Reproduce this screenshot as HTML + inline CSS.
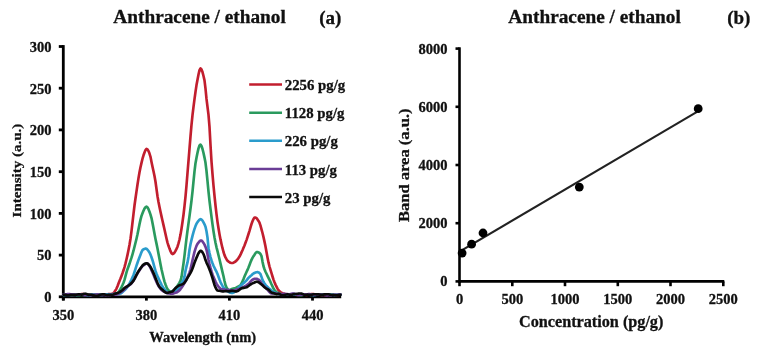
<!DOCTYPE html>
<html><head><meta charset="utf-8"><style>html,body{margin:0;padding:0;background:#fff;width:761px;height:350px;overflow:hidden}svg{display:block;filter:blur(0.4px)}</style></head><body>
<svg width="761" height="350" viewBox="0 0 761 350">
<rect width="761" height="350" fill="#fff"/>
<text x="199.6" y="23.2" font-family="&quot;Liberation Serif&quot;, serif" font-weight="bold" stroke="#111" stroke-width="0.3" font-size="19.3" text-anchor="middle" fill="#111">Anthracene / ethanol</text>
<text x="330.3" y="24" font-family="&quot;Liberation Serif&quot;, serif" font-weight="bold" stroke="#111" stroke-width="0.3" font-size="19" text-anchor="middle" fill="#111">(a)</text>
<text x="594.6" y="23.0" font-family="&quot;Liberation Serif&quot;, serif" font-weight="bold" stroke="#111" stroke-width="0.3" font-size="19.3" text-anchor="middle" fill="#111">Anthracene / ethanol</text>
<text x="738.8" y="24" font-family="&quot;Liberation Serif&quot;, serif" font-weight="bold" stroke="#111" stroke-width="0.3" font-size="19" text-anchor="middle" fill="#111">(b)</text>
<g stroke="#000" stroke-width="2.8" fill="none">
<path d="M63.3,45.1 V300.3"/>
<path d="M61.9,296.8 H341.20000000000005"/>
<path d="M58.8,296.8 H63.3"/>
<path d="M58.8,255.1 H63.3"/>
<path d="M58.8,213.4 H63.3"/>
<path d="M58.8,171.7 H63.3"/>
<path d="M58.8,129.9 H63.3"/>
<path d="M58.8,88.2 H63.3"/>
<path d="M58.8,46.5 H63.3"/>
<path d="M63.3,296.8 V300.6"/>
<path d="M146.4,296.8 V300.6"/>
<path d="M229.4,296.8 V300.6"/>
<path d="M312.5,296.8 V300.6"/>
</g>
<text x="51.5" y="302.1" font-family="&quot;Liberation Serif&quot;, serif" font-weight="bold" stroke="#111" stroke-width="0.3" font-size="14.5" text-anchor="end" fill="#111">0</text>
<text x="51.5" y="260.4" font-family="&quot;Liberation Serif&quot;, serif" font-weight="bold" stroke="#111" stroke-width="0.3" font-size="14.5" text-anchor="end" fill="#111">50</text>
<text x="51.5" y="218.7" font-family="&quot;Liberation Serif&quot;, serif" font-weight="bold" stroke="#111" stroke-width="0.3" font-size="14.5" text-anchor="end" fill="#111">100</text>
<text x="51.5" y="177.0" font-family="&quot;Liberation Serif&quot;, serif" font-weight="bold" stroke="#111" stroke-width="0.3" font-size="14.5" text-anchor="end" fill="#111">150</text>
<text x="51.5" y="135.2" font-family="&quot;Liberation Serif&quot;, serif" font-weight="bold" stroke="#111" stroke-width="0.3" font-size="14.5" text-anchor="end" fill="#111">200</text>
<text x="51.5" y="93.5" font-family="&quot;Liberation Serif&quot;, serif" font-weight="bold" stroke="#111" stroke-width="0.3" font-size="14.5" text-anchor="end" fill="#111">250</text>
<text x="51.5" y="51.8" font-family="&quot;Liberation Serif&quot;, serif" font-weight="bold" stroke="#111" stroke-width="0.3" font-size="14.5" text-anchor="end" fill="#111">300</text>
<text x="63.3" y="319.8" font-family="&quot;Liberation Serif&quot;, serif" font-weight="bold" stroke="#111" stroke-width="0.3" font-size="14.5" text-anchor="middle" fill="#111">350</text>
<text x="146.4" y="319.8" font-family="&quot;Liberation Serif&quot;, serif" font-weight="bold" stroke="#111" stroke-width="0.3" font-size="14.5" text-anchor="middle" fill="#111">380</text>
<text x="229.4" y="319.8" font-family="&quot;Liberation Serif&quot;, serif" font-weight="bold" stroke="#111" stroke-width="0.3" font-size="14.5" text-anchor="middle" fill="#111">410</text>
<text x="312.5" y="319.8" font-family="&quot;Liberation Serif&quot;, serif" font-weight="bold" stroke="#111" stroke-width="0.3" font-size="14.5" text-anchor="middle" fill="#111">440</text>
<text x="202.7" y="341.8" font-family="&quot;Liberation Serif&quot;, serif" font-weight="bold" stroke="#111" stroke-width="0.3" font-size="14.5" text-anchor="middle" fill="#111">Wavelength (nm)</text>
<text transform="translate(20.8,170.6) rotate(-90) scale(1,0.9)" font-family="&quot;Liberation Serif&quot;, serif" font-weight="bold" stroke="#111" stroke-width="0.3" font-size="15" text-anchor="middle" fill="#111">Intensity (a.u.)</text>
<path d="M63.5,294.8 L64.5,294.7 L65.5,294.7 L66.5,294.6 L67.5,294.5 L68.5,294.6 L69.5,294.7 L70.5,294.8 L71.5,294.8 L72.5,294.8 L73.5,294.8 L74.5,294.8 L75.5,294.7 L76.5,294.6 L77.5,294.6 L78.5,294.5 L79.5,294.4 L80.5,294.2 L81.5,294.1 L82.5,294.0 L83.5,294.1 L84.5,294.2 L85.5,294.3 L86.5,294.4 L87.5,294.4 L88.5,294.3 L89.5,294.2 L90.5,294.2 L91.5,294.3 L92.5,294.3 L93.5,294.2 L94.5,294.2 L95.5,294.2 L96.5,294.3 L97.5,294.4 L98.5,294.5 L99.5,294.5 L100.5,294.5 L101.5,294.5 L102.5,294.4 L103.5,294.3 L104.5,294.3 L105.5,294.3 L106.5,294.3 L107.5,294.2 L108.5,294.1 L109.5,294.1 L110.5,294.0 L111.5,293.9 L112.5,293.7 L113.5,293.1 L114.5,291.8 L115.5,290.3 L116.5,288.6 L117.5,286.2 L118.5,283.5 L119.5,280.9 L120.5,278.5 L121.5,275.9 L122.5,273.2 L123.5,270.3 L124.5,267.1 L125.5,263.4 L126.5,259.3 L127.5,254.9 L128.5,250.1 L129.5,244.8 L130.5,238.7 L131.5,231.1 L132.5,222.5 L133.5,213.9 L134.5,205.5 L135.5,198.3 L136.5,191.4 L137.5,184.5 L138.5,178.1 L139.5,172.3 L140.5,167.3 L141.5,162.9 L142.5,158.7 L143.5,155.3 L144.5,152.5 L145.5,150.1 L146.5,148.9 L147.5,149.4 L148.5,151.1 L149.5,153.6 L150.5,156.8 L151.5,161.9 L152.5,166.8 L153.5,171.3 L154.5,176.1 L155.5,181.8 L156.5,189.0 L157.5,196.2 L158.5,202.0 L159.5,207.1 L160.5,211.8 L161.5,216.4 L162.5,220.7 L163.5,225.1 L164.5,229.5 L165.5,234.0 L166.5,238.5 L167.5,242.6 L168.5,245.8 L169.5,248.6 L170.5,251.2 L171.5,253.2 L172.5,254.1 L173.5,253.7 L174.5,252.6 L175.5,250.9 L176.5,248.9 L177.5,246.7 L178.5,243.4 L179.5,239.5 L180.5,234.6 L181.5,228.7 L182.5,222.0 L183.5,214.7 L184.5,206.2 L185.5,196.7 L186.5,185.4 L187.5,173.0 L188.5,160.8 L189.5,148.7 L190.5,136.4 L191.5,124.9 L192.5,115.2 L193.5,106.9 L194.5,99.2 L195.5,91.9 L196.5,85.1 L197.5,79.7 L198.5,74.5 L199.5,70.1 L200.5,68.4 L201.5,69.5 L202.5,72.1 L203.5,76.0 L204.5,80.4 L205.5,88.7 L206.5,98.9 L207.5,106.8 L208.5,114.9 L209.5,126.9 L210.5,145.0 L211.5,161.5 L212.5,174.2 L213.5,185.6 L214.5,195.9 L215.5,205.5 L216.5,214.2 L217.5,221.8 L218.5,228.3 L219.5,234.2 L220.5,239.4 L221.5,244.0 L222.5,248.2 L223.5,252.0 L224.5,255.1 L225.5,257.4 L226.5,259.2 L227.5,260.7 L228.5,261.6 L229.5,262.2 L230.5,262.7 L231.5,263.0 L232.5,263.0 L233.5,262.7 L234.5,262.1 L235.5,261.5 L236.5,260.6 L237.5,259.4 L238.5,258.1 L239.5,256.6 L240.5,254.7 L241.5,252.4 L242.5,250.2 L243.5,247.8 L244.5,245.4 L245.5,242.8 L246.5,240.1 L247.5,237.1 L248.5,234.0 L249.5,230.8 L250.5,227.3 L251.5,224.0 L252.5,221.3 L253.5,218.9 L254.5,217.5 L255.5,217.5 L256.5,218.2 L257.5,219.4 L258.5,220.9 L259.5,222.7 L260.5,225.6 L261.5,229.3 L262.5,233.0 L263.5,237.1 L264.5,241.6 L265.5,246.6 L266.5,252.1 L267.5,257.5 L268.5,262.4 L269.5,266.5 L270.5,269.9 L271.5,273.2 L272.5,276.5 L273.5,279.6 L274.5,282.3 L275.5,284.6 L276.5,286.6 L277.5,288.6 L278.5,290.2 L279.5,291.3 L280.5,292.1 L281.5,292.8 L282.5,293.2 L283.5,293.5 L284.5,293.8 L285.5,294.0 L286.5,294.3 L287.5,294.5 L288.5,294.5 L289.5,294.4 L290.5,294.3 L291.5,294.3 L292.5,294.4 L293.5,294.5 L294.5,294.6 L295.5,294.7 L296.5,294.9 L297.5,294.9 L298.5,294.8 L299.5,294.7 L300.5,294.7 L301.5,294.6 L302.5,294.5 L303.5,294.6 L304.5,294.7 L305.5,294.8 L306.5,294.8 L307.5,294.8 L308.5,294.7 L309.5,294.5 L310.5,294.3 L311.5,294.1 L312.5,294.0 L313.5,294.1 L314.5,294.3 L315.5,294.6 L316.5,294.7 L317.5,294.6 L318.5,294.7 L319.5,294.8 L320.5,294.9 L321.5,294.9 L322.5,294.9 L323.5,294.9 L324.5,295.0 L325.5,294.9 L326.5,294.8 L327.5,294.8 L328.5,294.7 L329.5,294.8 L330.5,294.7 L331.5,294.7 L332.5,294.7 L333.5,294.7 L334.5,294.9 L335.5,295.0 L336.5,295.1 L337.5,295.0 L338.5,294.9 L339.5,294.7 L340.5,294.5" fill="none" stroke="#c21e2e" stroke-width="2.65" stroke-linejoin="round" stroke-linecap="round"/>
<path d="M63.5,294.8 L64.5,294.8 L65.5,294.7 L66.5,294.6 L67.5,294.7 L68.5,294.8 L69.5,295.0 L70.5,295.0 L71.5,295.0 L72.5,294.9 L73.5,294.8 L74.5,294.7 L75.5,294.7 L76.5,295.0 L77.5,295.1 L78.5,295.2 L79.5,295.1 L80.5,295.0 L81.5,294.8 L82.5,294.8 L83.5,294.8 L84.5,294.9 L85.5,295.0 L86.5,295.0 L87.5,294.8 L88.5,294.7 L89.5,294.8 L90.5,294.9 L91.5,294.9 L92.5,294.8 L93.5,294.6 L94.5,294.5 L95.5,294.6 L96.5,294.7 L97.5,294.6 L98.5,294.6 L99.5,294.5 L100.5,294.4 L101.5,294.3 L102.5,294.3 L103.5,294.4 L104.5,294.6 L105.5,294.7 L106.5,294.8 L107.5,294.7 L108.5,294.6 L109.5,294.4 L110.5,294.3 L111.5,294.3 L112.5,294.3 L113.5,294.3 L114.5,294.2 L115.5,294.0 L116.5,293.6 L117.5,293.3 L118.5,292.3 L119.5,290.6 L120.5,288.9 L121.5,287.1 L122.5,285.0 L123.5,282.7 L124.5,279.9 L125.5,276.2 L126.5,272.4 L127.5,269.2 L128.5,266.5 L129.5,263.8 L130.5,260.7 L131.5,257.7 L132.5,254.3 L133.5,250.7 L134.5,246.7 L135.5,242.7 L136.5,238.7 L137.5,234.3 L138.5,229.3 L139.5,224.2 L140.5,219.6 L141.5,215.9 L142.5,213.2 L143.5,210.7 L144.5,208.6 L145.5,207.2 L146.5,206.7 L147.5,207.3 L148.5,209.2 L149.5,211.7 L150.5,214.6 L151.5,218.1 L152.5,222.9 L153.5,228.3 L154.5,233.7 L155.5,238.9 L156.5,243.6 L157.5,248.5 L158.5,253.7 L159.5,259.0 L160.5,264.3 L161.5,269.2 L162.5,273.5 L163.5,277.7 L164.5,281.6 L165.5,284.5 L166.5,287.1 L167.5,289.2 L168.5,290.4 L169.5,291.1 L170.5,291.6 L171.5,291.7 L172.5,291.2 L173.5,290.4 L174.5,289.4 L175.5,288.3 L176.5,287.1 L177.5,285.7 L178.5,284.2 L179.5,282.7 L180.5,280.7 L181.5,277.1 L182.5,270.3 L183.5,263.5 L184.5,255.7 L185.5,246.9 L186.5,238.4 L187.5,230.7 L188.5,223.4 L189.5,216.1 L190.5,208.5 L191.5,200.7 L192.5,191.6 L193.5,181.3 L194.5,171.3 L195.5,163.2 L196.5,157.7 L197.5,152.8 L198.5,148.4 L199.5,145.5 L200.5,144.6 L201.5,146.0 L202.5,149.0 L203.5,153.0 L204.5,157.6 L205.5,162.8 L206.5,171.0 L207.5,181.2 L208.5,191.7 L209.5,200.8 L210.5,209.0 L211.5,216.9 L212.5,224.4 L213.5,231.3 L214.5,237.5 L215.5,242.8 L216.5,247.3 L217.5,251.2 L218.5,255.2 L219.5,259.3 L220.5,263.6 L221.5,267.9 L222.5,272.1 L223.5,276.3 L224.5,281.0 L225.5,285.1 L226.5,287.4 L227.5,289.0 L228.5,290.0 L229.5,290.1 L230.5,289.8 L231.5,289.3 L232.5,288.8 L233.5,288.5 L234.5,288.2 L235.5,287.9 L236.5,287.5 L237.5,287.0 L238.5,286.5 L239.5,286.0 L240.5,285.2 L241.5,283.5 L242.5,281.4 L243.5,279.1 L244.5,276.6 L245.5,274.2 L246.5,272.0 L247.5,269.9 L248.5,267.5 L249.5,264.9 L250.5,262.2 L251.5,259.9 L252.5,257.9 L253.5,256.2 L254.5,254.7 L255.5,253.1 L256.5,252.1 L257.5,252.0 L258.5,252.4 L259.5,253.0 L260.5,254.0 L261.5,256.1 L262.5,261.6 L263.5,266.3 L264.5,269.2 L265.5,271.7 L266.5,273.8 L267.5,275.8 L268.5,277.8 L269.5,279.9 L270.5,282.0 L271.5,284.3 L272.5,286.4 L273.5,288.4 L274.5,290.2 L275.5,291.3 L276.5,292.2 L277.5,292.7 L278.5,293.2 L279.5,293.5 L280.5,293.8 L281.5,294.0 L282.5,294.3 L283.5,294.4 L284.5,294.4 L285.5,294.3 L286.5,294.3 L287.5,294.5 L288.5,294.7 L289.5,294.7 L290.5,294.5 L291.5,294.3 L292.5,294.2 L293.5,294.3 L294.5,294.5 L295.5,294.5 L296.5,294.5 L297.5,294.5 L298.5,294.7 L299.5,294.9 L300.5,295.1 L301.5,295.1 L302.5,294.9 L303.5,294.7 L304.5,294.6 L305.5,294.5 L306.5,294.5 L307.5,294.5 L308.5,294.6 L309.5,294.7 L310.5,294.7 L311.5,294.7 L312.5,294.6 L313.5,294.5 L314.5,294.5 L315.5,294.5 L316.5,294.6 L317.5,294.6 L318.5,294.6 L319.5,294.5 L320.5,294.4 L321.5,294.4 L322.5,294.4 L323.5,294.4 L324.5,294.4 L325.5,294.5 L326.5,294.6 L327.5,294.7 L328.5,294.6 L329.5,294.5 L330.5,294.5 L331.5,294.5 L332.5,294.6 L333.5,294.6 L334.5,294.6 L335.5,294.7 L336.5,294.7 L337.5,294.7 L338.5,294.7 L339.5,294.6 L340.5,294.6" fill="none" stroke="#2a9a5e" stroke-width="2.65" stroke-linejoin="round" stroke-linecap="round"/>
<path d="M63.5,294.9 L64.5,294.9 L65.5,294.9 L66.5,294.8 L67.5,294.8 L68.5,294.8 L69.5,294.9 L70.5,294.9 L71.5,294.8 L72.5,294.8 L73.5,294.9 L74.5,295.0 L75.5,295.0 L76.5,294.9 L77.5,294.7 L78.5,294.6 L79.5,294.5 L80.5,294.4 L81.5,294.3 L82.5,294.3 L83.5,294.4 L84.5,294.6 L85.5,294.8 L86.5,294.9 L87.5,295.1 L88.5,295.2 L89.5,295.1 L90.5,294.9 L91.5,294.6 L92.5,294.5 L93.5,294.6 L94.5,294.7 L95.5,294.8 L96.5,294.8 L97.5,294.8 L98.5,294.8 L99.5,294.8 L100.5,294.9 L101.5,295.0 L102.5,295.0 L103.5,294.8 L104.5,294.7 L105.5,294.5 L106.5,294.4 L107.5,294.4 L108.5,294.4 L109.5,294.5 L110.5,294.4 L111.5,294.3 L112.5,294.1 L113.5,294.0 L114.5,293.9 L115.5,293.9 L116.5,294.0 L117.5,294.0 L118.5,294.0 L119.5,293.8 L120.5,293.5 L121.5,292.9 L122.5,292.0 L123.5,291.0 L124.5,290.2 L125.5,289.3 L126.5,288.2 L127.5,286.8 L128.5,285.2 L129.5,283.4 L130.5,281.5 L131.5,279.5 L132.5,277.3 L133.5,275.0 L134.5,272.0 L135.5,268.8 L136.5,265.7 L137.5,262.8 L138.5,259.9 L139.5,257.2 L140.5,254.7 L141.5,252.1 L142.5,250.1 L143.5,249.3 L144.5,248.9 L145.5,248.6 L146.5,248.8 L147.5,249.7 L148.5,251.0 L149.5,252.5 L150.5,254.6 L151.5,257.3 L152.5,260.2 L153.5,263.6 L154.5,267.4 L155.5,270.9 L156.5,273.7 L157.5,276.1 L158.5,278.3 L159.5,280.5 L160.5,282.6 L161.5,284.6 L162.5,286.4 L163.5,288.1 L164.5,289.5 L165.5,290.5 L166.5,291.5 L167.5,292.2 L168.5,292.6 L169.5,292.8 L170.5,293.1 L171.5,293.3 L172.5,293.2 L173.5,292.8 L174.5,292.1 L175.5,291.4 L176.5,290.5 L177.5,289.5 L178.5,288.3 L179.5,286.7 L180.5,285.0 L181.5,283.3 L182.5,281.8 L183.5,279.9 L184.5,276.6 L185.5,270.7 L186.5,266.4 L187.5,262.4 L188.5,256.9 L189.5,249.7 L190.5,244.3 L191.5,239.9 L192.5,235.9 L193.5,232.2 L194.5,228.9 L195.5,226.1 L196.5,223.7 L197.5,222.1 L198.5,220.8 L199.5,219.7 L200.5,219.2 L201.5,219.6 L202.5,220.7 L203.5,222.4 L204.5,224.3 L205.5,226.8 L206.5,231.3 L207.5,237.6 L208.5,248.2 L209.5,253.1 L210.5,257.1 L211.5,260.4 L212.5,263.2 L213.5,265.7 L214.5,267.8 L215.5,269.8 L216.5,271.7 L217.5,274.0 L218.5,276.7 L219.5,279.5 L220.5,282.1 L221.5,284.2 L222.5,285.9 L223.5,287.4 L224.5,288.8 L225.5,289.9 L226.5,290.7 L227.5,291.3 L228.5,291.9 L229.5,292.4 L230.5,292.8 L231.5,293.0 L232.5,292.9 L233.5,292.6 L234.5,291.9 L235.5,291.1 L236.5,290.3 L237.5,289.3 L238.5,288.0 L239.5,286.9 L240.5,285.9 L241.5,284.9 L242.5,284.0 L243.5,283.2 L244.5,282.4 L245.5,281.4 L246.5,280.3 L247.5,279.1 L248.5,277.9 L249.5,276.9 L250.5,276.0 L251.5,275.2 L252.5,274.2 L253.5,273.5 L254.5,272.9 L255.5,272.5 L256.5,272.2 L257.5,272.1 L258.5,272.4 L259.5,273.0 L260.5,274.2 L261.5,276.9 L262.5,279.9 L263.5,281.8 L264.5,283.4 L265.5,284.8 L266.5,286.0 L267.5,287.0 L268.5,288.0 L269.5,288.8 L270.5,289.6 L271.5,290.5 L272.5,291.3 L273.5,292.0 L274.5,292.6 L275.5,293.0 L276.5,293.4 L277.5,293.7 L278.5,294.0 L279.5,294.2 L280.5,294.2 L281.5,294.3 L282.5,294.4 L283.5,294.6 L284.5,294.7 L285.5,294.7 L286.5,294.6 L287.5,294.5 L288.5,294.5 L289.5,294.5 L290.5,294.4 L291.5,294.2 L292.5,294.1 L293.5,294.1 L294.5,294.2 L295.5,294.4 L296.5,294.7 L297.5,294.8 L298.5,294.8 L299.5,294.6 L300.5,294.4 L301.5,294.3 L302.5,294.3 L303.5,294.3 L304.5,294.4 L305.5,294.4 L306.5,294.5 L307.5,294.6 L308.5,294.7 L309.5,294.8 L310.5,294.9 L311.5,295.0 L312.5,295.0 L313.5,295.1 L314.5,295.0 L315.5,294.9 L316.5,294.7 L317.5,294.6 L318.5,294.6 L319.5,294.6 L320.5,294.7 L321.5,294.8 L322.5,294.8 L323.5,294.7 L324.5,294.5 L325.5,294.4 L326.5,294.4 L327.5,294.5 L328.5,294.6 L329.5,294.7 L330.5,294.7 L331.5,294.7 L332.5,294.8 L333.5,295.0 L334.5,295.1 L335.5,295.1 L336.5,294.9 L337.5,294.7 L338.5,294.6 L339.5,294.6 L340.5,294.7" fill="none" stroke="#2a9ccc" stroke-width="2.65" stroke-linejoin="round" stroke-linecap="round"/>
<path d="M63.5,294.6 L64.5,294.5 L65.5,294.4 L66.5,294.2 L67.5,294.1 L68.5,294.0 L69.5,294.1 L70.5,294.3 L71.5,294.4 L72.5,294.5 L73.5,294.5 L74.5,294.6 L75.5,294.8 L76.5,294.9 L77.5,294.8 L78.5,294.7 L79.5,294.6 L80.5,294.5 L81.5,294.5 L82.5,294.7 L83.5,294.9 L84.5,295.1 L85.5,295.1 L86.5,295.0 L87.5,294.9 L88.5,295.0 L89.5,295.1 L90.5,295.2 L91.5,295.2 L92.5,295.0 L93.5,294.9 L94.5,294.9 L95.5,294.8 L96.5,294.6 L97.5,294.4 L98.5,294.5 L99.5,294.7 L100.5,294.9 L101.5,295.0 L102.5,295.0 L103.5,294.9 L104.5,295.0 L105.5,295.1 L106.5,295.2 L107.5,295.2 L108.5,295.1 L109.5,295.0 L110.5,294.9 L111.5,294.8 L112.5,294.7 L113.5,294.7 L114.5,294.7 L115.5,294.6 L116.5,294.4 L117.5,294.0 L118.5,293.5 L119.5,292.9 L120.5,292.2 L121.5,291.7 L122.5,291.1 L123.5,290.3 L124.5,289.3 L125.5,288.3 L126.5,287.3 L127.5,286.3 L128.5,285.6 L129.5,285.0 L130.5,284.3 L131.5,283.3 L132.5,282.0 L133.5,280.5 L134.5,278.8 L135.5,277.0 L136.5,275.1 L137.5,273.3 L138.5,271.7 L139.5,270.2 L140.5,268.7 L141.5,267.2 L142.5,266.1 L143.5,265.3 L144.5,264.6 L145.5,263.9 L146.5,263.4 L147.5,263.4 L148.5,264.5 L149.5,266.1 L150.5,268.0 L151.5,270.1 L152.5,272.4 L153.5,274.7 L154.5,277.3 L155.5,279.8 L156.5,282.0 L157.5,284.1 L158.5,286.0 L159.5,287.5 L160.5,288.8 L161.5,290.0 L162.5,290.8 L163.5,291.4 L164.5,291.8 L165.5,292.3 L166.5,292.8 L167.5,293.2 L168.5,293.4 L169.5,293.5 L170.5,293.6 L171.5,293.6 L172.5,293.6 L173.5,293.4 L174.5,293.1 L175.5,292.8 L176.5,292.5 L177.5,291.9 L178.5,291.2 L179.5,290.3 L180.5,289.1 L181.5,287.7 L182.5,286.2 L183.5,284.7 L184.5,283.0 L185.5,281.1 L186.5,279.1 L187.5,277.0 L188.5,274.9 L189.5,272.4 L190.5,269.3 L191.5,264.9 L192.5,260.3 L193.5,256.0 L194.5,251.9 L195.5,248.6 L196.5,245.9 L197.5,243.9 L198.5,242.6 L199.5,241.4 L200.5,240.6 L201.5,240.6 L202.5,241.5 L203.5,242.9 L204.5,244.6 L205.5,246.9 L206.5,249.8 L207.5,254.3 L208.5,259.7 L209.5,264.0 L210.5,267.9 L211.5,271.4 L212.5,274.4 L213.5,277.1 L214.5,279.4 L215.5,281.6 L216.5,283.6 L217.5,285.3 L218.5,286.6 L219.5,287.8 L220.5,288.8 L221.5,289.2 L222.5,289.3 L223.5,289.5 L224.5,289.6 L225.5,289.8 L226.5,289.9 L227.5,289.9 L228.5,290.0 L229.5,290.0 L230.5,290.2 L231.5,290.3 L232.5,290.4 L233.5,290.4 L234.5,290.3 L235.5,289.9 L236.5,289.5 L237.5,289.2 L238.5,289.0 L239.5,288.8 L240.5,288.4 L241.5,287.9 L242.5,287.4 L243.5,286.9 L244.5,286.5 L245.5,286.0 L246.5,285.4 L247.5,284.6 L248.5,283.9 L249.5,282.9 L250.5,281.7 L251.5,280.6 L252.5,279.7 L253.5,279.2 L254.5,278.8 L255.5,278.7 L256.5,278.8 L257.5,279.1 L258.5,279.6 L259.5,280.4 L260.5,281.6 L261.5,283.2 L262.5,284.6 L263.5,285.7 L264.5,286.7 L265.5,287.6 L266.5,288.5 L267.5,289.6 L268.5,290.9 L269.5,292.1 L270.5,293.0 L271.5,293.5 L272.5,293.4 L273.5,293.5 L274.5,293.5 L275.5,293.5 L276.5,293.5 L277.5,293.5 L278.5,293.7 L279.5,294.0 L280.5,294.3 L281.5,294.2 L282.5,294.0 L283.5,293.8 L284.5,293.9 L285.5,294.0 L286.5,294.0 L287.5,294.1 L288.5,294.3 L289.5,294.2 L290.5,294.0 L291.5,293.8 L292.5,293.6 L293.5,293.6 L294.5,293.8 L295.5,294.1 L296.5,294.4 L297.5,294.7 L298.5,294.9 L299.5,294.9 L300.5,294.8 L301.5,294.7 L302.5,294.6 L303.5,294.4 L304.5,294.3 L305.5,294.2 L306.5,294.2 L307.5,294.2 L308.5,294.1 L309.5,294.1 L310.5,294.3 L311.5,294.5 L312.5,294.6 L313.5,294.7 L314.5,294.7 L315.5,294.6 L316.5,294.4 L317.5,294.4 L318.5,294.5 L319.5,294.6 L320.5,294.6 L321.5,294.6 L322.5,294.7 L323.5,294.8 L324.5,295.0 L325.5,295.2 L326.5,295.3 L327.5,295.3 L328.5,295.2 L329.5,295.3 L330.5,295.3 L331.5,295.3 L332.5,295.0 L333.5,294.8 L334.5,294.7 L335.5,294.6 L336.5,294.7 L337.5,294.7 L338.5,294.6 L339.5,294.5 L340.5,294.5" fill="none" stroke="#6a3d96" stroke-width="2.65" stroke-linejoin="round" stroke-linecap="round"/>
<path d="M63.5,294.6 L64.5,294.7 L65.5,294.8 L66.5,295.1 L67.5,295.2 L68.5,295.2 L69.5,295.1 L70.5,294.9 L71.5,294.8 L72.5,294.8 L73.5,294.8 L74.5,294.9 L75.5,294.9 L76.5,294.8 L77.5,294.5 L78.5,294.4 L79.5,294.4 L80.5,294.5 L81.5,294.6 L82.5,294.5 L83.5,294.1 L84.5,293.8 L85.5,293.7 L86.5,294.0 L87.5,294.4 L88.5,294.8 L89.5,294.8 L90.5,294.7 L91.5,294.8 L92.5,295.1 L93.5,295.3 L94.5,295.5 L95.5,295.7 L96.5,295.9 L97.5,295.8 L98.5,295.4 L99.5,295.1 L100.5,294.8 L101.5,294.5 L102.5,294.3 L103.5,294.3 L104.5,294.4 L105.5,294.7 L106.5,295.0 L107.5,295.1 L108.5,294.9 L109.5,294.7 L110.5,294.7 L111.5,294.8 L112.5,294.7 L113.5,294.4 L114.5,294.0 L115.5,293.6 L116.5,293.4 L117.5,293.1 L118.5,292.6 L119.5,292.1 L120.5,291.5 L121.5,290.8 L122.5,290.0 L123.5,289.0 L124.5,288.0 L125.5,287.2 L126.5,286.7 L127.5,286.2 L128.5,285.5 L129.5,284.8 L130.5,284.0 L131.5,283.0 L132.5,281.9 L133.5,280.6 L134.5,278.8 L135.5,276.8 L136.5,274.8 L137.5,273.0 L138.5,271.2 L139.5,269.7 L140.5,268.3 L141.5,266.9 L142.5,265.5 L143.5,264.6 L144.5,264.0 L145.5,263.5 L146.5,263.3 L147.5,263.5 L148.5,264.4 L149.5,265.5 L150.5,266.9 L151.5,268.8 L152.5,270.8 L153.5,273.1 L154.5,275.6 L155.5,278.1 L156.5,280.5 L157.5,283.0 L158.5,285.2 L159.5,286.8 L160.5,288.0 L161.5,288.9 L162.5,289.8 L163.5,290.8 L164.5,291.7 L165.5,292.4 L166.5,292.8 L167.5,292.8 L168.5,292.6 L169.5,292.3 L170.5,292.1 L171.5,291.8 L172.5,291.4 L173.5,290.5 L174.5,289.2 L175.5,288.1 L176.5,287.3 L177.5,286.5 L178.5,285.8 L179.5,285.2 L180.5,284.9 L181.5,284.6 L182.5,284.2 L183.5,283.6 L184.5,282.6 L185.5,281.3 L186.5,279.7 L187.5,277.9 L188.5,276.2 L189.5,274.6 L190.5,272.9 L191.5,270.9 L192.5,268.5 L193.5,265.7 L194.5,262.8 L195.5,260.3 L196.5,257.8 L197.5,255.4 L198.5,253.3 L199.5,251.7 L200.5,250.8 L201.5,251.1 L202.5,252.4 L203.5,254.1 L204.5,256.8 L205.5,260.1 L206.5,262.6 L207.5,264.8 L208.5,267.0 L209.5,269.4 L210.5,272.0 L211.5,275.0 L212.5,278.1 L213.5,281.6 L214.5,284.9 L215.5,287.4 L216.5,289.4 L217.5,290.5 L218.5,290.7 L219.5,290.8 L220.5,291.0 L221.5,291.2 L222.5,291.4 L223.5,291.4 L224.5,291.2 L225.5,291.1 L226.5,291.1 L227.5,291.3 L228.5,291.4 L229.5,291.4 L230.5,291.1 L231.5,290.9 L232.5,290.8 L233.5,291.0 L234.5,291.3 L235.5,291.4 L236.5,291.4 L237.5,291.1 L238.5,290.5 L239.5,289.7 L240.5,288.9 L241.5,288.3 L242.5,288.1 L243.5,287.9 L244.5,287.7 L245.5,287.5 L246.5,287.2 L247.5,286.7 L248.5,286.0 L249.5,285.2 L250.5,284.5 L251.5,283.9 L252.5,283.4 L253.5,282.9 L254.5,282.5 L255.5,282.0 L256.5,281.7 L257.5,281.8 L258.5,282.2 L259.5,282.9 L260.5,283.7 L261.5,284.4 L262.5,285.3 L263.5,286.3 L264.5,287.2 L265.5,288.0 L266.5,288.7 L267.5,289.1 L268.5,289.7 L269.5,290.6 L270.5,291.7 L271.5,292.5 L272.5,292.9 L273.5,293.1 L274.5,293.4 L275.5,293.8 L276.5,294.1 L277.5,294.0 L278.5,293.9 L279.5,294.1 L280.5,294.7 L281.5,295.2 L282.5,295.4 L283.5,295.3 L284.5,295.0 L285.5,294.7 L286.5,294.5 L287.5,294.4 L288.5,294.5 L289.5,294.7 L290.5,294.9 L291.5,294.8 L292.5,294.6 L293.5,294.3 L294.5,294.1 L295.5,294.0 L296.5,293.9 L297.5,293.7 L298.5,293.6 L299.5,293.5 L300.5,293.5 L301.5,293.6 L302.5,293.9 L303.5,294.4 L304.5,294.8 L305.5,294.9 L306.5,294.7 L307.5,294.6 L308.5,294.7 L309.5,294.8 L310.5,294.9 L311.5,294.9 L312.5,294.6 L313.5,294.3 L314.5,294.2 L315.5,294.3 L316.5,294.4 L317.5,294.3 L318.5,294.4 L319.5,294.6 L320.5,294.8 L321.5,294.9 L322.5,294.8 L323.5,294.6 L324.5,294.4 L325.5,294.4 L326.5,294.3 L327.5,294.2 L328.5,294.2 L329.5,294.5 L330.5,294.9 L331.5,295.0 L332.5,295.1 L333.5,295.1 L334.5,295.2 L335.5,295.4 L336.5,295.4 L337.5,295.3 L338.5,295.0 L339.5,294.8 L340.5,294.8" fill="none" stroke="#0a0a0a" stroke-width="2.65" stroke-linejoin="round" stroke-linecap="round"/>
<path d="M249.2,84.6 H282" stroke="#c21e2e" stroke-width="2.5"/>
<text x="284.8" y="90.2" font-family="&quot;Liberation Serif&quot;, serif" font-weight="bold" stroke="#111" stroke-width="0.3" font-size="14.8" fill="#111">2256 pg/g</text>
<path d="M249.2,112.7 H282" stroke="#2a9a5e" stroke-width="2.5"/>
<text x="284.8" y="118.3" font-family="&quot;Liberation Serif&quot;, serif" font-weight="bold" stroke="#111" stroke-width="0.3" font-size="14.8" fill="#111">1128 pg/g</text>
<path d="M249.2,140.8 H282" stroke="#2a9ccc" stroke-width="2.5"/>
<text x="284.8" y="146.4" font-family="&quot;Liberation Serif&quot;, serif" font-weight="bold" stroke="#111" stroke-width="0.3" font-size="14.8" fill="#111">226 pg/g</text>
<path d="M249.2,168.9 H282" stroke="#6a3d96" stroke-width="2.5"/>
<text x="284.8" y="174.5" font-family="&quot;Liberation Serif&quot;, serif" font-weight="bold" stroke="#111" stroke-width="0.3" font-size="14.8" fill="#111">113 pg/g</text>
<path d="M249.2,197.0 H282" stroke="#0a0a0a" stroke-width="2.5"/>
<text x="284.8" y="202.6" font-family="&quot;Liberation Serif&quot;, serif" font-weight="bold" stroke="#111" stroke-width="0.3" font-size="14.8" fill="#111">23 pg/g</text>
<g stroke="#000" stroke-width="2.6" fill="none">
<path d="M459.5,47.300000000000004 V282.7"/>
<path d="M458.2,281.4 H724.3"/>
<path d="M455.5,281.4 H459.5"/>
<path d="M455.5,223.2 H459.5"/>
<path d="M455.5,165.0 H459.5"/>
<path d="M455.5,106.8 H459.5"/>
<path d="M455.5,48.6 H459.5"/>
<path d="M459.5,281.4 V286.2"/>
<path d="M512.3,281.4 V286.2"/>
<path d="M565.0,281.4 V286.2"/>
<path d="M617.8,281.4 V286.2"/>
<path d="M670.5,281.4 V286.2"/>
<path d="M723.3,281.4 V286.2"/>
</g>
<text x="447.5" y="286.3" font-family="&quot;Liberation Serif&quot;, serif" font-weight="bold" stroke="#111" stroke-width="0.3" font-size="14.5" text-anchor="end" fill="#111">0</text>
<text x="447.5" y="228.1" font-family="&quot;Liberation Serif&quot;, serif" font-weight="bold" stroke="#111" stroke-width="0.3" font-size="14.5" text-anchor="end" fill="#111">2000</text>
<text x="447.5" y="169.9" font-family="&quot;Liberation Serif&quot;, serif" font-weight="bold" stroke="#111" stroke-width="0.3" font-size="14.5" text-anchor="end" fill="#111">4000</text>
<text x="447.5" y="111.7" font-family="&quot;Liberation Serif&quot;, serif" font-weight="bold" stroke="#111" stroke-width="0.3" font-size="14.5" text-anchor="end" fill="#111">6000</text>
<text x="447.5" y="53.5" font-family="&quot;Liberation Serif&quot;, serif" font-weight="bold" stroke="#111" stroke-width="0.3" font-size="14.5" text-anchor="end" fill="#111">8000</text>
<text x="459.5" y="304.0" font-family="&quot;Liberation Serif&quot;, serif" font-weight="bold" stroke="#111" stroke-width="0.3" font-size="14.5" text-anchor="middle" fill="#111">0</text>
<text x="512.3" y="304.0" font-family="&quot;Liberation Serif&quot;, serif" font-weight="bold" stroke="#111" stroke-width="0.3" font-size="14.5" text-anchor="middle" fill="#111">500</text>
<text x="565.0" y="304.0" font-family="&quot;Liberation Serif&quot;, serif" font-weight="bold" stroke="#111" stroke-width="0.3" font-size="14.5" text-anchor="middle" fill="#111">1000</text>
<text x="617.8" y="304.0" font-family="&quot;Liberation Serif&quot;, serif" font-weight="bold" stroke="#111" stroke-width="0.3" font-size="14.5" text-anchor="middle" fill="#111">1500</text>
<text x="670.5" y="304.0" font-family="&quot;Liberation Serif&quot;, serif" font-weight="bold" stroke="#111" stroke-width="0.3" font-size="14.5" text-anchor="middle" fill="#111">2000</text>
<text x="723.3" y="304.0" font-family="&quot;Liberation Serif&quot;, serif" font-weight="bold" stroke="#111" stroke-width="0.3" font-size="14.5" text-anchor="middle" fill="#111">2500</text>
<text x="591.2" y="327.3" font-family="&quot;Liberation Serif&quot;, serif" font-weight="bold" stroke="#111" stroke-width="0.3" font-size="16.2" text-anchor="middle" fill="#111">Concentration (pg/g)</text>
<text transform="translate(408.6,165.2) rotate(-90) scale(1,0.92)" font-family="&quot;Liberation Serif&quot;, serif" font-weight="bold" stroke="#111" stroke-width="0.3" font-size="16.55" text-anchor="middle" fill="#111">Band area (a.u.)</text>
<path d="M460,251.4 L697,111.9" stroke="#222" stroke-width="2.1"/>
<circle cx="462.1" cy="253.1" r="4.4" fill="#000"/>
<circle cx="471.6" cy="244.2" r="4.4" fill="#000"/>
<circle cx="483" cy="233" r="4.4" fill="#000"/>
<circle cx="579.3" cy="187.1" r="4.4" fill="#000"/>
<circle cx="698.2" cy="108.7" r="4.4" fill="#000"/>
</svg>
</body></html>
